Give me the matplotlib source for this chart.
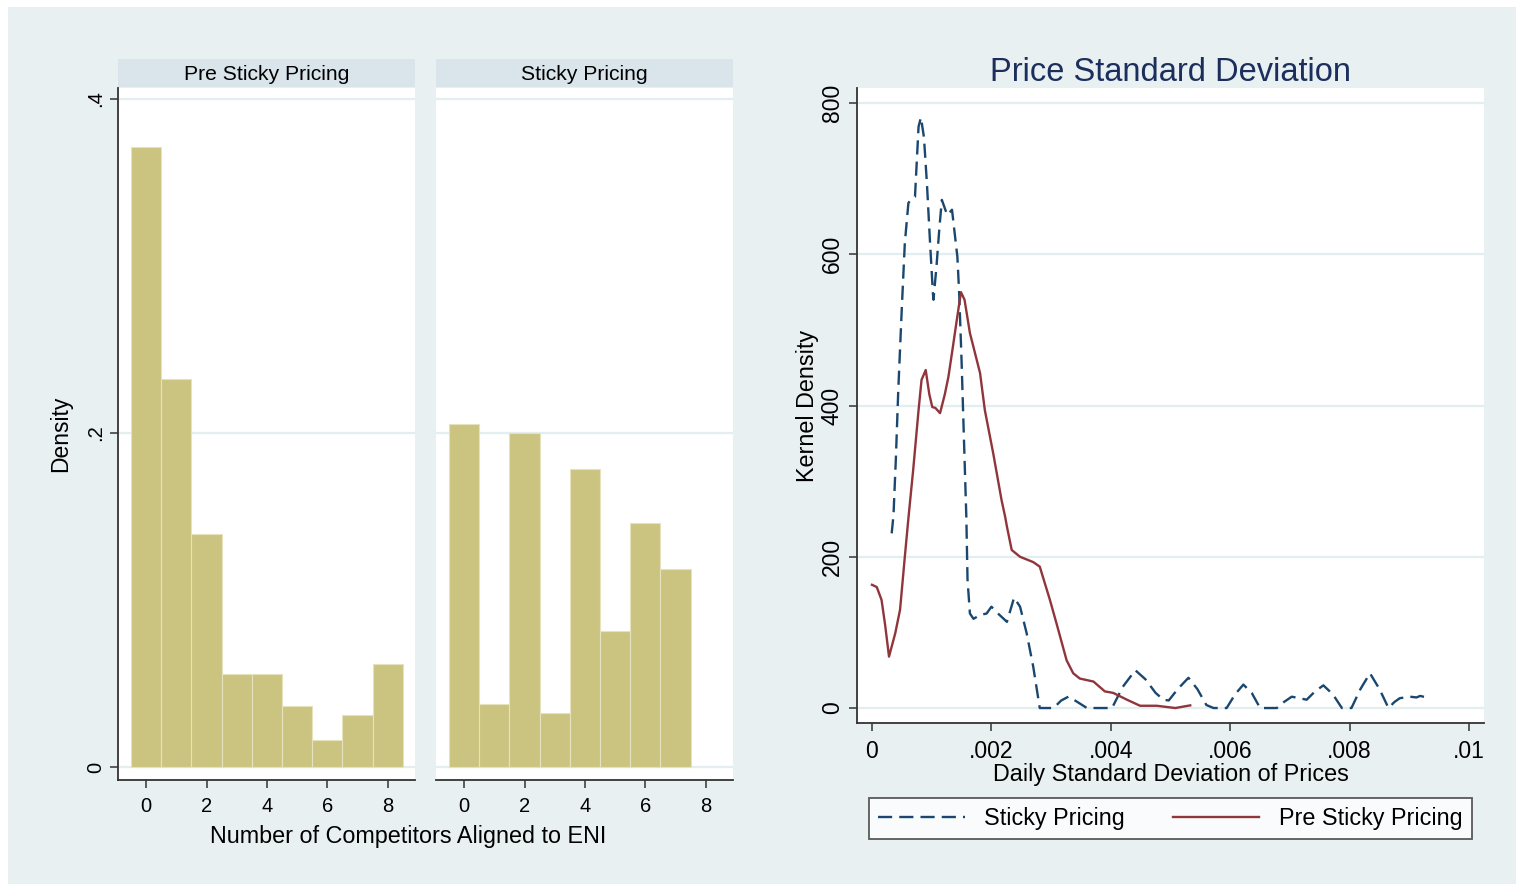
import numpy as np
import matplotlib.pyplot as plt
from matplotlib.patches import Rectangle

plt.rcParams['font.family'] = ['Liberation Sans', 'DejaVu Sans']

# histogram densities, one bar per number of aligned competitors
pre_counts = [0, 1, 2, 3, 4, 5, 6, 7, 8]
pre_density = [0.3713, 0.2323, 0.1395, 0.0557, 0.0557, 0.0365, 0.0162, 0.0311, 0.0617]
sticky_counts = [0, 1, 2, 3, 4, 5, 6, 7]
sticky_density = [0.2054, 0.0377, 0.2000, 0.0323, 0.1784, 0.0814, 0.1461, 0.1186]

# kernel density of daily price std. dev.
sticky_x = [0.00033, 0.00036, 0.0004, 0.00044, 0.0005, 0.00055, 0.00061, 0.00067, 0.00072,
            0.00078, 0.00082, 0.00087, 0.00092, 0.00097, 0.00102, 0.00103, 0.00108, 0.00113,
            0.00117, 0.00126, 0.00134, 0.00143, 0.00146, 0.0015, 0.00155, 0.00158, 0.0016,
            0.00164, 0.0017, 0.00181, 0.00192, 0.002, 0.00211, 0.00226, 0.00238, 0.00248,
            0.00259, 0.0027, 0.00281, 0.00304, 0.00317, 0.00329, 0.0034, 0.0036, 0.00402,
            0.0042, 0.00441, 0.00458, 0.00475, 0.00488, 0.00497, 0.00512, 0.0053, 0.00545,
            0.0056, 0.00572, 0.00594, 0.00608, 0.00622, 0.00636, 0.0065, 0.00678, 0.0069,
            0.00703, 0.00716, 0.00728, 0.00742, 0.00756, 0.00772, 0.00787, 0.00803, 0.00818,
            0.00834, 0.0085, 0.00865, 0.00875, 0.00884, 0.00901, 0.00912, 0.00918, 0.00929]
sticky_y = [231, 255, 330, 420, 530, 615, 668, 674, 676,
            769, 781, 755, 694, 619, 549, 540, 584, 636,
            672, 652, 659, 597, 549, 460, 330, 253, 170,
            125, 118, 123, 125, 134, 125, 114, 146, 134,
            99, 55, 0, 0, 10, 15, 10, 0, 0,
            28, 50, 38, 20, 11, 10, 25, 40, 25,
            4, 0, 0, 18, 31, 20, 0, 0, 8,
            15, 13, 11, 22, 30, 18, 0, 0, 25,
            46, 25, 0, 8, 13, 15, 14, 16, 14]

pre_x = [0.0, 0.00008, 0.00016, 0.00022, 0.000285, 0.00039, 0.00047, 0.00055, 0.00061,
         0.00069, 0.00078, 0.00083, 0.0009, 0.00096, 0.00101, 0.00106, 0.00114, 0.00122,
         0.00128, 0.00135, 0.00142, 0.00149, 0.00155, 0.00164, 0.00181, 0.00189, 0.00203,
         0.00217, 0.00223, 0.00226, 0.00234, 0.00248, 0.0027, 0.00281, 0.00298, 0.00309,
         0.00326, 0.00337, 0.00348, 0.00371, 0.0039, 0.00404, 0.00427, 0.00449, 0.00477,
         0.00508, 0.00533]
pre_y = [163, 160, 143, 110, 68, 99, 130, 200, 251,
         315, 394, 434, 447, 415, 398, 397, 390, 415,
         438, 475, 513, 550, 540, 496, 443, 394, 337,
         275, 253, 240, 209, 200, 193, 187, 143, 112,
         63, 46, 39, 35, 22, 20, 11, 3, 3,
         0, 3.5]

W, H = 1518, 886
bg = '#e8f0f2'
strip_c = '#d9e5eb'
grid_c = '#e3eef0'
bar_c = '#cbc480'
navy = '#1a476f'
maroon = '#90353b'

fig = plt.figure(figsize=(W / 100, H / 100), dpi=100, facecolor='white')
fig.patches.append(Rectangle((8 / W, 2 / H), 1508 / W, 877 / H, transform=fig.transFigure,
                             facecolor=bg, edgecolor='none', zorder=-10))


def fx(px):
    return px / W


def fy(py):
    return 1 - py / H


def style_axis(ax, size):
    ax.set_facecolor('white')
    for s in ['top', 'right']:
        ax.spines[s].set_visible(False)
    for s in ['left', 'bottom']:
        ax.spines[s].set_color('#333333')
        ax.spines[s].set_linewidth(1.3)
    ax.tick_params(direction='out', length=6, width=1.1, color='#333333',
                   labelsize=size, labelcolor='black')
    ax.set_axisbelow(True)


# histogram panels
panels = [(118, pre_counts, pre_density, 'Pre Sticky Pricing'),
          (436, sticky_counts, sticky_density, 'Sticky Pricing')]
for i, (px, counts, dens, name) in enumerate(panels):
    ax = fig.add_axes([fx(px), fy(780), 297 / W, 692 / H])
    style_axis(ax, 14.5)
    ax.bar(counts, dens, width=1.0, color=bar_c, edgecolor='#e6e2bd', linewidth=0.8)
    ax.set_xlim(-0.93, 8.9)
    ax.set_ylim(-0.0078, 0.4066)
    ax.set_xticks([0, 2, 4, 6, 8])
    ax.set_yticks([0, 0.2, 0.4])
    ax.set_yticklabels(['0', '.2', '.4'], rotation=90, va='center')
    ax.yaxis.grid(True, color=grid_c, linewidth=1.6)
    ax.tick_params(axis='x', pad=6)
    if i == 1:
        ax.spines['left'].set_visible(False)
        ax.tick_params(axis='y', left=False, labelleft=False)
    else:
        ax.set_ylabel('Density', fontsize=16.5)
        ax.yaxis.set_label_coords(-0.155, 0.5)
    # panel caption strip
    sax = fig.add_axes([fx(px), fy(87), 297 / W, 28 / H])
    sax.set_facecolor(strip_c)
    sax.set_xticks([])
    sax.set_yticks([])
    for s in sax.spines.values():
        s.set_visible(False)
    sax.text(0.5, 0.45, name, ha='center', va='center', fontsize=15.2, transform=sax.transAxes)

fig.text(fx(408), fy(836), 'Number of Competitors Aligned to ENI', ha='center', va='center',
         fontsize=16.8)

# kernel density panel
kx = fig.add_axes([fx(857), fy(723), 627 / W, 635 / H])
style_axis(kx, 16.5)
kx.yaxis.grid(True, color=grid_c, linewidth=1.6)
l1, = kx.plot(sticky_x, sticky_y, color=navy, linewidth=1.7, linestyle=(0, (6, 3)))
l2, = kx.plot(pre_x, pre_y, color=maroon, linewidth=1.7)
kx.set_xlim(-0.000251, 0.01025)
kx.set_ylim(-19.8, 820)
kx.set_xticks([0, 0.002, 0.004, 0.006, 0.008, 0.01])
kx.set_xticklabels(['0', '.002', '.004', '.006', '.008', '.01'])
kx.set_yticks([0, 200, 400, 600, 800])
kx.set_yticklabels(['0', '200', '400', '600', '800'], rotation=90, va='center')
kx.tick_params(axis='x', pad=6)
kx.set_xlabel('Daily Standard Deviation of Prices', fontsize=16.8)
kx.xaxis.set_label_coords(0.5, -0.063)
kx.set_ylabel('Kernel Density', fontsize=16.8)
kx.yaxis.set_label_coords(-0.061, 0.5)
kx.set_title('Price Standard Deviation', fontsize=23.5, color='#1c2f5c', pad=5)

leg = fig.legend([l1, l2], ['Sticky Pricing', 'Pre Sticky Pricing'], ncol=2,
                 loc='center', mode='expand',
                 bbox_to_anchor=(fx(869), fy(840), 603 / W, 43 / H),
                 fontsize=16.8, frameon=True, fancybox=False, handlelength=3.7,
                 handletextpad=0.85, borderaxespad=0, columnspacing=2)
leg.get_frame().set_edgecolor('#333333')
leg.get_frame().set_linewidth(1.3)

fig.savefig('out.png', dpi=100, facecolor=fig.get_facecolor())
